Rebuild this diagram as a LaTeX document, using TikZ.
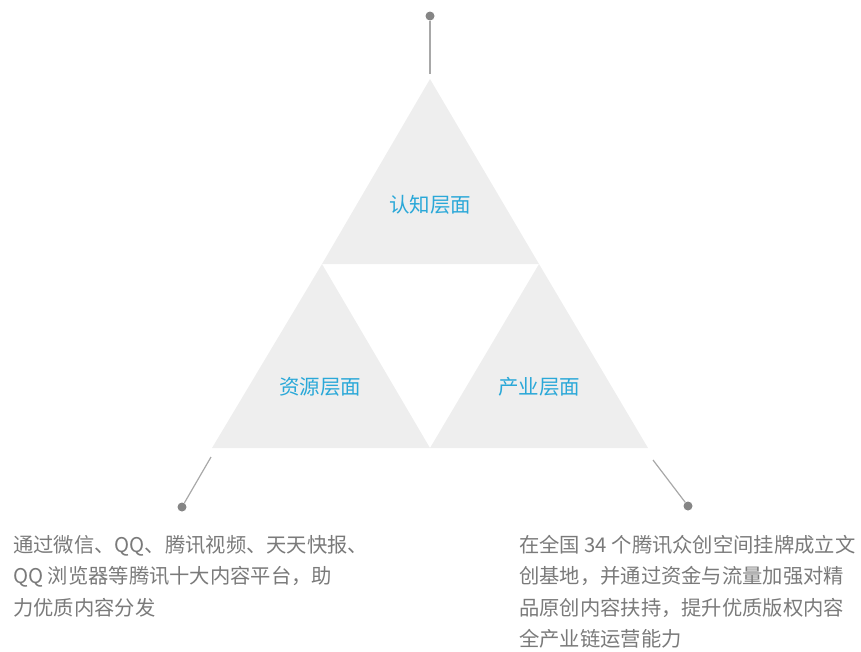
\documentclass[tikz,border=0pt]{standalone}
\usepackage{fontspec}
\setmainfont{Noto Sans CJK SC}
\usetikzlibrary{positioning}
\definecolor{trifill}{HTML}{EEEEEE}
\definecolor{labblue}{HTML}{2AA8D8}
\definecolor{txtgray}{HTML}{7A7A7A}
\definecolor{leadgray}{HTML}{A8A8A8}
\definecolor{dotgray}{HTML}{858585}

\begin{document}
\begin{tikzpicture}[x=1pt,y=-1pt,
  tri/.style={fill=trifill, draw=none},
  lab/.style={text=labblue, font=\fontsize{20.5}{24}\selectfont, inner sep=0pt},
  dot/.style={circle, fill=dotgray, draw=none, minimum width=9pt, inner sep=0pt},
  lead/.style={draw=leadgray, line width=1.2pt},
  note/.style={text=txtgray, font=\fontsize{20.3}{31.5}\selectfont, align=left, inner sep=0pt, anchor=north west}]
\useasboundingbox (0,0) rectangle (861,651);
% three triangles
\coordinate (top) at (430,79);
\coordinate (ml) at (322,264);
\coordinate (mr) at (539,264);
\coordinate (bl) at (212,448);
\coordinate (bm) at (430,448);
\coordinate (br) at (648,448);
\fill[tri] (top) -- (mr) -- (ml) -- cycle;
\fill[tri] (ml) -- (bm) -- (bl) -- cycle;
\fill[tri] (mr) -- (br) -- (bm) -- cycle;
\node[lab] (cog) at (430,205) {认知层面};
\node[lab] (res) at (320,387) {资源层面};
\node[lab] (ind) at (539,387) {产业层面};
% leaders
\node[dot] (dtop) at (430,16) {};
\node[dot] (dleft) at (182,507) {};
\node[dot] (dright) at (688,506) {};
\coordinate (ltop) at (430,74);
\coordinate (lleft) at (211,457);
\coordinate (lright) at (653,460);
\draw[lead] (ltop) -- (dtop);
\draw[lead] (lleft) -- (dleft);
\draw[lead] (lright) -- (dright);
% notes
\node[note] (nleft) at (13,535) {通过微信、QQ、腾讯视频、天天快报、\\QQ 浏览器等腾讯十大内容平台，助\\力优质内容分发};
\node[note] (nright) at (519,535) {在全国 34 个腾讯众创空间挂牌成立文\\创基地，并通过资金与流量加强对精\\品原创内容扶持，提升优质版权内容\\全产业链运营能力};
\end{tikzpicture}
\end{document}
